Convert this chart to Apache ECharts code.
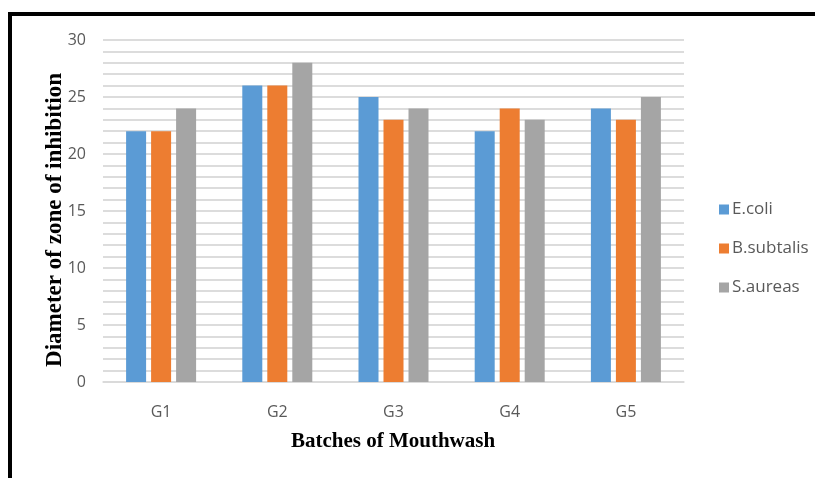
<!DOCTYPE html>
<html>
<head>
<meta charset="utf-8">
<script src="https://cdn.jsdelivr.net/npm/echarts@6/dist/echarts.min.js"></script>
<style>
  html, body { margin: 0; padding: 0; background: #fff; }
  #chart { width: 815px; height: 478px; }
</style>
</head>
<body>
<div id="chart"></div>
<script>
// Batches and zone-of-inhibition diameters per organism
var categories = ['G1', 'G2', 'G3', 'G4', 'G5'];
var ecoli = [22, 26, 25, 22, 24];
var bsubtalis = [22, 26, 23, 24, 23];
var saureas = [24, 28, 24, 23, 25];
var seriesNames = ['E.coli', 'B.subtalis', 'S.aureas'];
var colors = ['#5B9BD5', '#ED7D31', '#A5A5A5'];

var chart = echarts.init(document.getElementById('chart'));
var tickFont = { color: '#595959', fontSize: 16, fontFamily: 'Open Sans, Liberation Sans, sans-serif' };

function bar(name, data, color) {
  return {
    name: name, type: 'bar', data: data,
    itemStyle: { color: color },
    barWidth: 20, barGap: '25%'
  };
}

chart.setOption({
  animation: false,
  graphic: [
    // frame lines along top and left edges
    { type: 'line', shape: { x1: 8, y1: 14, x2: 815, y2: 14 }, style: { stroke: '#000', lineWidth: 4 } },
    { type: 'line', shape: { x1: 10, y1: 12, x2: 10, y2: 478 }, style: { stroke: '#000', lineWidth: 4 } },
    { type: 'text', x: 393, y: 442,
      style: { text: 'Batches of Mouthwash', font: 'bold 21px "Liberation Serif", serif', fill: '#000', align: 'center', verticalAlign: 'middle' } },
    { type: 'text', x: 55, y: 220, rotation: Math.PI / 2,
      style: { text: 'Diameter of zone of inhibition', font: 'bold 23px "Liberation Serif", serif', fill: '#000', align: 'center', verticalAlign: 'middle' } }
  ],
  legend: {
    orient: 'vertical', left: 714, top: 196, itemGap: 22,
    itemWidth: 10, itemHeight: 10, icon: 'rect',
    data: seriesNames,
    textStyle: { color: '#595959', fontSize: 17, fontFamily: 'Open Sans, Liberation Sans, sans-serif', padding: [0, 0, 0, -2] }
  },
  grid: { left: 103, right: 131, top: 40, bottom: 96, containLabel: false },
  xAxis: {
    type: 'category', data: categories,
    axisLine: { lineStyle: { color: '#D9D9D9', width: 1.5 } },
    axisTick: { show: false },
    axisLabel: Object.assign({ margin: 22 }, tickFont)
  },
  yAxis: {
    type: 'value', min: 0, max: 30, interval: 1,
    axisLine: { show: false }, axisTick: { show: false },
    splitLine: { lineStyle: { color: '#D0D0D0', width: 1.5 } },
    axisLabel: Object.assign({ margin: 17, formatter: function (v) { return v % 5 === 0 ? v : ''; } }, tickFont)
  },
  series: [
    bar(seriesNames[0], ecoli, colors[0]),
    bar(seriesNames[1], bsubtalis, colors[1]),
    bar(seriesNames[2], saureas, colors[2])
  ]
});
</script>
</body>
</html>
